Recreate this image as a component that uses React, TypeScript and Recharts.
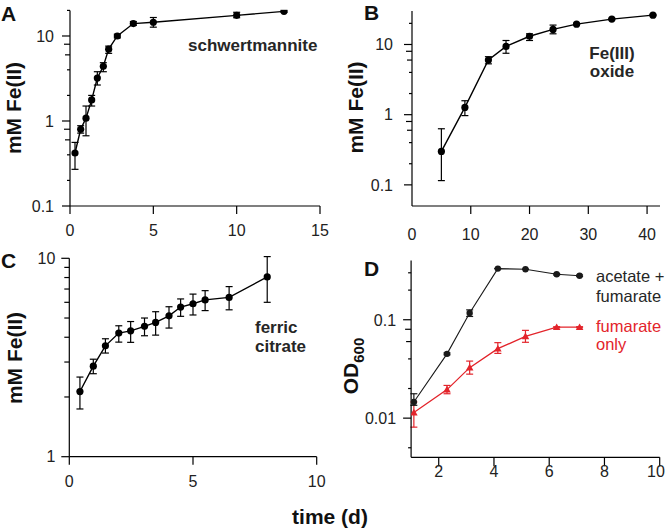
import React from 'react';
import { LineChart, Line, XAxis, YAxis, ErrorBar } from 'recharts';

const FONT = '"Liberation Sans", Arial, Helvetica, sans-serif';
const INK = '#000';
const TXT = '#222';
const RED = '#e3242b';

// ---------- Panel A: schwertmannite ----------
const aTime = [0.3, 0.64, 0.96, 1.3, 1.64, 2.0, 2.32, 2.84, 3.8, 5.0, 10.0, 12.84];
const aFe = [0.42, 0.8, 1.08, 1.77, 3.2, 4.4, 7.0, 10.0, 14.0, 14.5, 17.5, 19.5];
const aLo = [0.27, 0.72, 0.67, 1.5, 2.65, 3.8, 6.25, 9.5, 13.3, 12.7, 16.4, 19.0];
const aHi = [0.56, 0.88, 1.5, 2.0, 3.8, 4.85, 7.6, 10.5, 14.8, 16.5, 19.0, 20.0];
const aXTicks = [0, 5, 10, 15];
const aYTicks = [0.1, 0.2, 0.4, 0.6, 0.8, 1, 2, 4, 6, 8, 10, 20];
const aYMajor = [0.1, 1, 10];

// ---------- Panel B: Fe(III) oxide ----------
const bTime = [5, 9, 13, 16, 20, 24, 28, 34, 41];
const bFe = [0.3, 1.27, 6.0, 9.4, 13.1, 16.4, 19.5, 23.0, 26.2];
const bLo = [0.115, 0.97, 5.3, 7.5, 11.4, 14.2, 19.0, 22.5, 25.7];
const bHi = [0.63, 1.58, 6.7, 11.4, 14.2, 18.9, 20.0, 23.5, 26.7];
const bXTicks = [0, 10, 20, 30, 40];
const bYTicks = [0.1, 0.2, 0.4, 0.6, 0.8, 1, 2, 4, 6, 8, 10, 20];
const bYMajor = [0.1, 1, 10];

// ---------- Panel C: ferric citrate ----------
const cTime = [0.43, 0.97, 1.46, 2.0, 2.48, 3.04, 3.49, 4.03, 4.5, 5.0, 5.49, 6.46, 8.0];
const cFe = [2.13, 2.86, 3.62, 4.2, 4.31, 4.54, 4.75, 5.13, 5.68, 5.9, 6.17, 6.35, 8.06];
const cLo = [1.74, 2.62, 3.33, 3.78, 3.77, 4.07, 4.1, 4.45, 5.1, 5.18, 5.45, 5.5, 6.0];
const cHi = [2.52, 3.1, 3.93, 4.57, 4.8, 5.0, 5.38, 5.7, 6.24, 6.6, 6.87, 7.2, 10.2];
const cXTicks = [0, 5, 10];
const cYTicks = [1, 2, 3, 4, 5, 6, 7, 8, 9, 10];
const cYMajor = [1, 10];

// ---------- Panel D: OD600 ----------
const dTime = [1.1, 2.3, 3.12, 4.14, 5.14, 6.27, 7.1];
const dAcetate = [0.0146, 0.045, 0.117, 0.331, 0.326, 0.29, 0.28];
const dAcetateLo = [0.0135, 0.044, 0.108, 0.33, 0.325, 0.285, 0.275];
const dAcetateHi = [0.0177, 0.046, 0.126, 0.332, 0.327, 0.295, 0.285];
const dFumarate = [0.0114, 0.0195, 0.0326, 0.0508, 0.0677, 0.084, 0.084];
const dFumarateLo = [0.0081, 0.0177, 0.028, 0.0455, 0.059, 0.083, 0.083];
const dFumarateHi = [0.0146, 0.0215, 0.038, 0.0585, 0.078, 0.085, 0.085];
const dXTicks = [2, 4, 6, 8, 10];
const dYTicks = [0.005, 0.01, 0.02, 0.04, 0.06, 0.08, 0.1, 0.2, 0.3];
const dYMajor = [0.01, 0.1];

const build = (xs: number[], ys: number[], lo: number[], hi: number[]) =>
  xs.map((x, i) => ({ x, y: ys[i], err: [ys[i] - lo[i], hi[i] - ys[i]] }));

const aData = build(aTime, aFe, aLo, aHi);
const bData = build(bTime, bFe, bLo, bHi);
const cData = build(cTime, cFe, cLo, cHi);
const dData = dTime.map((x, i) => ({
  x,
  ac: dAcetate[i],
  acErr: [dAcetate[i] - dAcetateLo[i], dAcetateHi[i] - dAcetate[i]],
  fu: dFumarate[i],
  fuErr: [dFumarate[i] - dFumarateLo[i], dFumarateHi[i] - dFumarate[i]],
}));

const mantissa = (v: number) => {
  const e = Math.floor(Math.log10(v) + 1e-9);
  return Math.round(v / Math.pow(10, e));
};

const LENS_EVEN: Record<number, number> = { 1: 8, 2: 3, 3: 3, 4: 3, 5: 3, 6: 5, 7: 4, 8: 6, 9: 4 };
const LENS_ALL: Record<number, number> = { 1: 8, 2: 5, 3: 5, 4: 5, 5: 5, 6: 5, 7: 5, 8: 5, 9: 5 };

const fmt = (v: number) => String(v);

function makeYTick(majors: number[], gap: number, lens: Record<number, number>) {
  return (props: any) => {
    const { x, y, payload } = props;
    const v = payload.value as number;
    const len = lens[mantissa(v)] ?? 4;
    const isMajor = majors.some((m) => Math.abs(m - v) < 1e-12);
    return (
      <g>
        <line x1={x - len} x2={x} y1={y} y2={y} stroke={INK} strokeWidth={1.2} />
        {isMajor && (
          <text x={x - gap} y={y} dy="0.36em" textAnchor="end" fontFamily={FONT} fontSize={16} fill={TXT}>
            {fmt(v)}
          </text>
        )}
      </g>
    );
  };
}

function makeXTick(len: number, offset: number, skipZeroLine = false, maxRight = 10000) {
  return (props: any) => {
    const { x, y, payload } = props;
    const v = payload.value as number;
    const label = fmt(v);
    const halfW = label.length * 4.5;
    const tx = Math.min(x, maxRight - halfW);
    return (
      <g>
        {!(skipZeroLine && v === 0) && <line x1={x} x2={x} y1={y} y2={y + len} stroke={INK} strokeWidth={1.2} />}
        <text x={tx} y={y + offset} textAnchor="middle" fontFamily={FONT} fontSize={16} fill={TXT}>
          {label}
        </text>
      </g>
    );
  };
}

const Triangle = (props: any) => {
  const { cx, cy, index } = props;
  if (cx == null || cy == null) return <g key={`t${index}`} />;
  const s = 3.8;
  return (
    <polygon
      key={`t${index}`}
      points={`${cx},${cy - s} ${cx - s},${cy + s * 0.75} ${cx + s},${cy + s * 0.75}`}
      fill={RED}
    />
  );
};

const axisLineStyle = { stroke: INK, strokeWidth: 1.2 };

const panelStyle = (left: number, top: number): React.CSSProperties => ({
  position: 'absolute',
  left,
  top,
});

export default function App() {
  return (
    <div style={{ position: 'absolute', left: 0, top: 0, width: 666, height: 531, background: '#fff', overflow: 'hidden' }}>
      {/* Panel A */}
      <div style={panelStyle(0, 0)}>
        <LineChart width={333} height={250} data={aData} margin={{ top: 10.4, right: 13, bottom: 14, left: 10 }}>
          <XAxis
            dataKey="x"
            type="number"
            domain={[0, 15]}
            ticks={aXTicks}
            interval={0}
            allowDataOverflow
            height={30}
            tickLine={false}
            tickSize={0}
            tickMargin={0}
            axisLine={axisLineStyle}
            tick={makeXTick(8, 29.5)}
          />
          <YAxis
            type="number"
            scale="log"
            domain={[0.1, 20]}
            ticks={aYTicks}
            interval={0}
            allowDataOverflow
            width={60}
            tickLine={false}
            tickSize={0}
            tickMargin={0}
            axisLine={axisLineStyle}
            tick={makeYTick(aYMajor, 16, LENS_EVEN)}
          />
          <Line
            type="linear"
            dataKey="y"
            stroke={INK}
            strokeWidth={1.4}
            dot={{ r: 3.6, fill: INK, stroke: INK, strokeWidth: 0 }}
            activeDot={false}
            isAnimationActive={false}
          >
            <ErrorBar dataKey="err" direction="y" width={3.5} stroke={INK} strokeWidth={1.2} isAnimationActive={false} />
          </Line>
        </LineChart>
      </div>

      {/* Panel B */}
      <div style={panelStyle(333, 0)}>
        <LineChart width={333} height={250} data={bData} margin={{ top: 11, right: 6, bottom: 14, left: 19 }}>
          <XAxis
            dataKey="x"
            type="number"
            domain={[0, 42.2]}
            ticks={bXTicks}
            interval={0}
            allowDataOverflow
            height={30}
            tickLine={false}
            tickSize={0}
            tickMargin={0}
            axisLine={axisLineStyle}
            tick={makeXTick(8, 33.5, true)}
          />
          <YAxis
            type="number"
            scale="log"
            domain={[0.05, 30]}
            ticks={bYTicks}
            interval={0}
            allowDataOverflow
            width={60}
            tickLine={false}
            tickSize={0}
            tickMargin={0}
            axisLine={axisLineStyle}
            tick={makeYTick(bYMajor, 19, LENS_EVEN)}
          />
          <Line
            type="linear"
            dataKey="y"
            stroke={INK}
            strokeWidth={1.4}
            dot={{ r: 3.6, fill: INK, stroke: INK, strokeWidth: 0 }}
            activeDot={false}
            isAnimationActive={false}
          >
            <ErrorBar dataKey="err" direction="y" width={3.5} stroke={INK} strokeWidth={1.2} isAnimationActive={false} />
          </Line>
        </LineChart>
      </div>

      {/* Panel C */}
      <div style={panelStyle(0, 250)}>
        <LineChart width={333} height={250} data={cData} margin={{ top: 8.3, right: 16.3, bottom: 13.3, left: 9.3 }}>
          <XAxis
            dataKey="x"
            type="number"
            domain={[0, 10]}
            ticks={cXTicks}
            interval={0}
            allowDataOverflow
            height={30}
            tickLine={false}
            tickSize={0}
            tickMargin={0}
            axisLine={axisLineStyle}
            tick={makeXTick(8, 30.5)}
          />
          <YAxis
            type="number"
            scale="log"
            domain={[1, 10]}
            ticks={cYTicks}
            interval={0}
            allowDataOverflow
            width={60}
            tickLine={false}
            tickSize={0}
            tickMargin={0}
            axisLine={axisLineStyle}
            tick={makeYTick(cYMajor, 14, LENS_ALL)}
          />
          <Line
            type="linear"
            dataKey="y"
            stroke={INK}
            strokeWidth={1.4}
            dot={{ r: 3.6, fill: INK, stroke: INK, strokeWidth: 0 }}
            activeDot={false}
            isAnimationActive={false}
          >
            <ErrorBar dataKey="err" direction="y" width={3.5} stroke={INK} strokeWidth={1.2} isAnimationActive={false} />
          </Line>
        </LineChart>
      </div>

      {/* Panel D */}
      <div style={panelStyle(333, 250)}>
        <LineChart width={333} height={250} data={dData} margin={{ top: 10.5, right: 6.3, bottom: 12.7, left: 18.1 }}>
          <XAxis
            dataKey="x"
            type="number"
            domain={[1, 10]}
            ticks={dXTicks}
            interval={0}
            allowDataOverflow
            height={30}
            tickLine={false}
            tickSize={0}
            tickMargin={0}
            axisLine={axisLineStyle}
            tick={makeXTick(9, 20, false, 332)}
          />
          <YAxis
            type="number"
            scale="log"
            domain={[0.004, 0.4]}
            ticks={dYTicks}
            interval={0}
            allowDataOverflow
            width={60}
            tickLine={false}
            tickSize={0}
            tickMargin={0}
            axisLine={axisLineStyle}
            tick={makeYTick(dYMajor, 15, LENS_EVEN)}
          />
          <Line
            type="linear"
            dataKey="fu"
            stroke={RED}
            strokeWidth={1.3}
            dot={Triangle}
            activeDot={false}
            isAnimationActive={false}
          >
            <ErrorBar dataKey="fuErr" direction="y" width={3.5} stroke={RED} strokeWidth={1.2} isAnimationActive={false} />
          </Line>
          <Line
            type="linear"
            dataKey="ac"
            stroke="#1a1a1a"
            strokeWidth={1.1}
            dot={{ r: 3.2, fill: '#1a1a1a', stroke: '#1a1a1a', strokeWidth: 0 }}
            activeDot={false}
            isAnimationActive={false}
          >
            <ErrorBar dataKey="acErr" direction="y" width={3.5} stroke="#1a1a1a" strokeWidth={1.2} isAnimationActive={false} />
          </Line>
        </LineChart>
      </div>

      {/* Annotations */}
      <svg
        width={666}
        height={531}
        style={{ position: 'absolute', left: 0, top: 0, pointerEvents: 'none' }}
        fontFamily={FONT}
      >
        <g fontWeight="bold" fontSize={21} fill="#111">
          <text x={1} y={20.5}>A</text>
          <text x={364} y={19.5}>B</text>
          <text x={1} y={267.5}>C</text>
          <text x={364} y={275.5}>D</text>
        </g>
        <g fontWeight="bold" fontSize={21} fill="#111" textAnchor="middle">
          <text transform="translate(20.5,108) rotate(-90)">mM Fe(II)</text>
          <text transform="translate(363,107.5) rotate(-90)">mM Fe(II)</text>
          <text transform="translate(22,358) rotate(-90)">mM Fe(II)</text>
          <text transform="translate(358,366) rotate(-90)">
            OD<tspan fontSize={15} dy={6}>600</tspan>
          </text>
          <text x={330} y={524}>time (d)</text>
        </g>
        <g fontWeight="bold" fontSize={17} fill="#262626">
          <text x={188} y={50.5}>schwertmannite</text>
          <text x={612} y={59} textAnchor="middle">Fe(III)</text>
          <text x={612} y={77} textAnchor="middle">oxide</text>
          <text x={255} y={333}>ferric</text>
          <text x={255} y={351.5}>citrate</text>
        </g>
        <g fontSize={16.5} fill="#262626">
          <text x={596} y={281.7}>acetate +</text>
          <text x={596} y={301.7}>fumarate</text>
          <text x={596} y={331.7} fill={RED}>fumarate</text>
          <text x={596} y={350} fill={RED}>only</text>
        </g>
      </svg>
    </div>
  );
}
